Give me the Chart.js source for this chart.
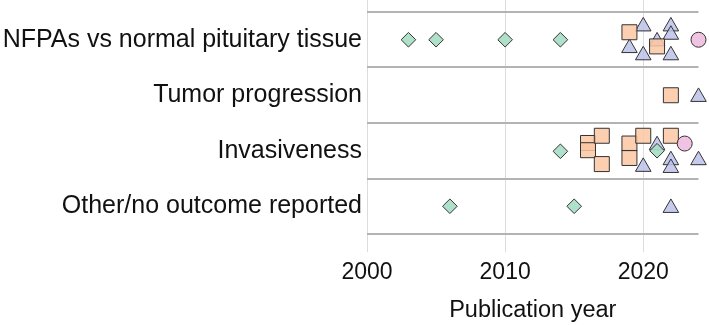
<!DOCTYPE html>
<html>
<head>
<meta charset="utf-8">
<script src="https://cdn.jsdelivr.net/npm/chart.js@4/dist/chart.umd.min.js"></script>
<style>
  html, body { margin: 0; padding: 0; background: #ffffff; }
  #wrap { width: 709px; height: 325px; }
</style>
</head>
<body>
<div id="wrap"><canvas id="c" width="709" height="325"></canvas></div>
<script>
// ---- Data ----
const categories = [
  "NFPAs vs normal pituitary tissue",
  "Tumor progression",
  "Invasiveness",
  "Other/no outcome reported"
];
const xTicks = [2000, 2010, 2020];

// green diamonds
const diamondYears  = [2003, 2005, 2010, 2014, 2014, 2021, 2006, 2015];
const diamondRows   = [0, 0, 0, 0, 2, 2, 3, 3];
const diamondJitter = [0, 0, 0, 0, 0.01, 0, 0, 0];

// orange squares
const squareYears  = [2019, 2021, 2022, 2016, 2016, 2017, 2017, 2019, 2019, 2020, 2022];
const squareRows   = [0, 0, 1, 2, 2, 2, 2, 2, 2, 2, 2];
const squareJitter = [-0.135, 0.12, 0, -0.14, -0.01, -0.27, 0.24, -0.13, 0.13, -0.27, -0.27];

// blue triangles
const triangleYears  = [2020, 2022, 2022, 2021, 2019, 2020, 2022, 2024, 2021, 2022, 2022, 2020, 2024, 2022];
const triangleRows   = [0, 0, 0, 0, 0, 0, 0, 1, 2, 2, 2, 2, 2, 3];
const triangleJitter = [-0.24, -0.24, -0.09, 0.03, 0.15, 0.28, 0.28, 0.03, -0.10, 0.17, 0.31, 0.29, 0.17, 0.03];

// pink circles
const circleYears  = [2024, 2023];
const circleRows   = [0, 2];
const circleJitter = [0, -0.13];

function pts(years, rows, jit) {
  return years.map((y, i) => ({ x: y, y: rows[i] + jit[i] }));
}

const FONT = "'Liberation Sans', Arial, Helvetica, sans-serif";
const EDGE = '#333333';

new Chart(document.getElementById('c'), {
  type: 'scatter',
  data: {
    datasets: [
      { label: 'circle', data: pts(circleYears, circleRows, circleJitter),
        pointStyle: 'circle', pointRadius: 7.5, backgroundColor: 'rgba(240,190,224,0.92)',
        borderColor: EDGE, borderWidth: 1, clip: false },
      { label: 'diamond', data: pts(diamondYears, diamondRows, diamondJitter),
        pointStyle: 'rectRot', pointRadius: 7.3, backgroundColor: 'rgba(168,221,196,0.92)',
        borderColor: EDGE, borderWidth: 1, clip: false },
      { label: 'square', data: pts(squareYears, squareRows, squareJitter),
        pointStyle: 'rect', pointRadius: 10.6, backgroundColor: 'rgba(252,199,162,0.85)',
        borderColor: EDGE, borderWidth: 1, clip: false },
      { label: 'triangle', data: pts(triangleYears, triangleRows, triangleJitter),
        pointStyle: 'triangle', pointRadius: 9, backgroundColor: 'rgba(188,194,234,0.85)',
        borderColor: EDGE, borderWidth: 1, clip: false }
    ]
  },
  options: {
    responsive: false,
    animation: false,
    events: [],
    layout: { autoPadding: false, padding: { left: 0, right: 10.5, top: 0, bottom: 0 } },
    plugins: { legend: { display: false }, tooltip: { enabled: false } },
    scales: {
      x: {
        type: 'linear',
        min: 2000,
        max: 2024,
        afterBuildTicks: s => { s.ticks = xTicks.map(v => ({ value: v })); },
        afterFit: s => { s.height = 73; s.paddingLeft = 0; s.paddingRight = 0; },
        grid: { color: '#dcdcdc', lineWidth: 1, drawTicks: false },
        border: { display: false },
        ticks: { autoSkip: false, maxRotation: 0, padding: 7, color: '#111111',
                 font: { family: FONT, size: 23 }, callback: v => String(v) },
        title: { display: true, text: 'Publication year', color: '#111111',
                 font: { family: FONT, size: 23.5 }, padding: { top: 0, bottom: 0 } }
      },
      y: {
        type: 'linear',
        reverse: true,
        min: -0.716,
        max: 3.824,
        afterBuildTicks: s => {
          const t = [];
          for (let i = 0; i <= categories.length; i++) {
            t.push({ value: i - 0.5 });
            if (i < categories.length) t.push({ value: i });
          }
          s.ticks = t;
        },
        afterFit: s => { s.width = 367; s.paddingTop = 0; s.paddingBottom = 0; },
        grid: {
          drawTicks: false,
          color: c => (c.tick && Number.isInteger(c.tick.value)) ? 'rgba(0,0,0,0)' : '#b3b3b3',
          lineWidth: c => (c.tick && Number.isInteger(c.tick.value)) ? 0 : 2
        },
        border: { display: false },
        ticks: {
          autoSkip: false,
          padding: 5,
          color: '#111111',
          font: { family: FONT, size: 25 },
          callback: v => Number.isInteger(v) ? categories[v] : ''
        }
      }
    }
  }
});
</script>
</body>
</html>
